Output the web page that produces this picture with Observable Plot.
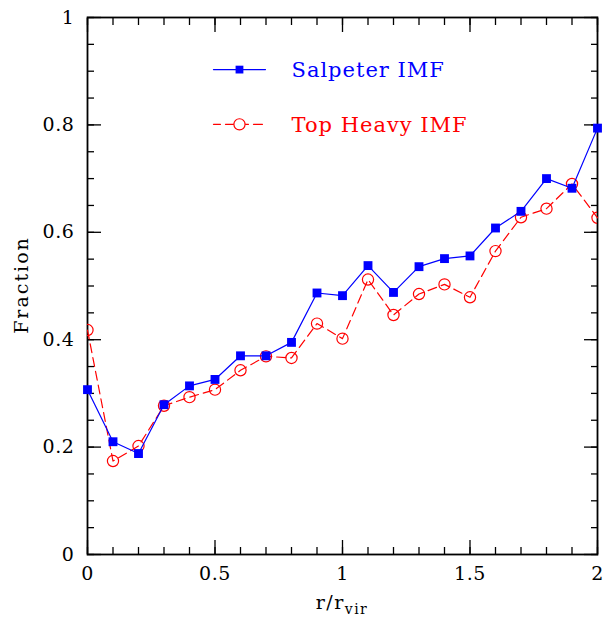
<!DOCTYPE html>
<html>
<head>
<meta charset="utf-8">
<script src="https://cdn.jsdelivr.net/npm/d3@7"></script>
<script src="https://cdn.jsdelivr.net/npm/@observablehq/plot@0.6"></script>
<style>
  html, body { margin: 0; padding: 0; background: white; }
  #chart { width: 606px; height: 621px; }
</style>
</head>
<body>
<div id="chart"></div>
<script>
// ---- data ----
const radius = [0, 0.1, 0.2, 0.3, 0.4, 0.5, 0.6, 0.7, 0.8, 0.9, 1.0, 1.1, 1.2, 1.3, 1.4, 1.5, 1.6, 1.7, 1.8, 1.9, 2.0];
const salpeter = [0.307, 0.210, 0.188, 0.279, 0.314, 0.326, 0.370, 0.370, 0.395, 0.487, 0.482, 0.538, 0.488, 0.536, 0.551, 0.556, 0.608, 0.639, 0.700, 0.682, 0.794];
const topHeavy = [0.418, 0.174, 0.202, 0.277, 0.293, 0.307, 0.343, 0.369, 0.366, 0.430, 0.402, 0.512, 0.446, 0.485, 0.503, 0.479, 0.565, 0.628, 0.644, 0.690, 0.627];
const seriesNames = ["Salpeter IMF", "Top Heavy IMF"];
const xMajorTicks = [0, 0.5, 1, 1.5, 2];
const yMajorTicks = [0, 0.2, 0.4, 0.6, 0.8, 1];
const xMinorTicks = d3.range(0, 20.5, 1).map(d => d / 10);
const yMinorTicks = d3.range(0, 20.5, 1).map(d => d / 20);
const yLabel = "Fraction";

const salData = radius.map((r, i) => ({r, v: salpeter[i]}));
const topData = radius.map((r, i) => ({r, v: topHeavy[i]}));

// legend layout (in data units of the frame)
const legX1 = 0.494, legX2 = 0.698, legXm = 0.596, legTx = 0.80;
const legY = [0.903, 0.801];

const BLUE = "#0000ff", RED = "#ff0000";

const plot = Plot.plot({
  width: 606,
  height: 621,
  marginLeft: 87,
  marginRight: 9,
  marginTop: 17,
  marginBottom: 67,
  x: {domain: [0, 2]},
  y: {domain: [0, 1]},
  style: {fontFamily: "'DejaVu Serif', serif", fontSize: "19px", background: "white", color: "black", letterSpacing: "0.6px"},
  marks: [
    // inward ticks on all four sides
    Plot.axisX({anchor: "bottom", ticks: xMinorTicks, tickSize: -7, text: null, label: null, strokeWidth: 1.3}),
    Plot.axisX({anchor: "bottom", ticks: xMajorTicks, tickSize: -14, text: null, label: null, strokeWidth: 1.3}),
    Plot.axisX({anchor: "top", ticks: xMinorTicks, tickSize: -7, text: null, label: null, strokeWidth: 1.3}),
    Plot.axisX({anchor: "top", ticks: xMajorTicks, tickSize: -14, text: null, label: null, strokeWidth: 1.3}),
    Plot.axisY({anchor: "left", ticks: yMinorTicks, tickSize: -7, text: null, label: null, strokeWidth: 1.3}),
    Plot.axisY({anchor: "left", ticks: yMajorTicks, tickSize: -14, text: null, label: null, strokeWidth: 1.3}),
    Plot.axisY({anchor: "right", ticks: yMinorTicks, tickSize: -7, text: null, label: null, strokeWidth: 1.3}),
    Plot.axisY({anchor: "right", ticks: yMajorTicks, tickSize: -14, text: null, label: null, strokeWidth: 1.3}),
    // tick labels
    Plot.axisX({anchor: "bottom", ticks: xMajorTicks, tickSize: 0, tickPadding: 12, label: null, tickFormat: d3.format("")}),
    Plot.axisY({anchor: "left", ticks: yMajorTicks, tickSize: 0, tickPadding: 13, label: null, tickFormat: d3.format("")}),
    Plot.frame({stroke: "black", strokeWidth: 1.8}),
    // data
    Plot.line(topData, {x: "r", y: "v", stroke: RED, strokeWidth: 1.2, strokeDasharray: "9,5"}),
    Plot.dot(topData, {x: "r", y: "v", r: 5.6, stroke: RED, fill: "none", strokeWidth: 1.2, clip: "frame"}),
    Plot.line(salData, {x: "r", y: "v", stroke: BLUE, strokeWidth: 1.2}),
    Plot.dot(salData, {x: "r", y: "v", symbol: "square", r: 5, fill: BLUE, stroke: "none"}),
    // legend
    Plot.line([[legX1, legY[0]], [legX2, legY[0]]], {stroke: BLUE, strokeWidth: 1.2}),
    Plot.dot([[legXm, legY[0]]], {symbol: "square", r: 4.4, fill: BLUE}),
    Plot.line([[legX1, legY[1]], [legX2, legY[1]]], {stroke: RED, strokeWidth: 1.2, strokeDasharray: "9,5", strokeDashoffset: 2}),
    Plot.dot([[legXm, legY[1]]], {r: 5.6, stroke: RED, fill: "white", strokeWidth: 1.2}),
    Plot.text([seriesNames[0]], {x: legTx, y: legY[0], text: d => d, textAnchor: "start", fill: BLUE, fontSize: 21, dy: 1}),
    Plot.text([seriesNames[1]], {x: legTx, y: legY[1], text: d => d, textAnchor: "start", fill: RED, fontSize: 21, dy: 1})
  ]
});

document.getElementById("chart").appendChild(plot);
// wider letter spacing for legend entries, as in the reference
d3.select(plot).selectAll("g[aria-label='text'] text").attr("letter-spacing", "1px");

// axis titles
const svg = d3.select(plot);
const xl = svg.append("text")
  .attr("x", 342).attr("y", 609)
  .attr("text-anchor", "middle")
  .attr("font-family", "'DejaVu Serif', serif")
  .attr("font-size", 19)
  .attr("letter-spacing", "1.5px")
  .attr("fill", "black");
xl.append("tspan").text("r/r");
xl.append("tspan").attr("font-size", 14).attr("dy", 5).text("vir");

svg.append("text")
  .attr("transform", "translate(28,285) rotate(-90)")
  .attr("text-anchor", "middle")
  .attr("font-family", "'DejaVu Serif', serif")
  .attr("font-size", 19)
  .attr("letter-spacing", "2px")
  .attr("fill", "black")
  .text(yLabel);
</script>
</body>
</html>
